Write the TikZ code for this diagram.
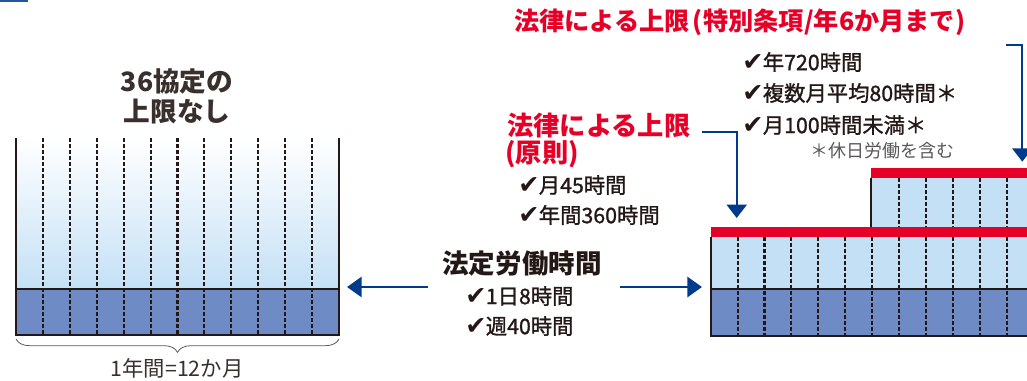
\documentclass[tikz,border=0pt]{standalone}
\usepackage{fontspec}
\setmainfont{Noto Sans CJK JP}
\newfontfamily\jpm[FakeBold=1.2]{Noto Sans CJK JP}
\newfontfamily\dv{DejaVu Sans}
\usetikzlibrary{arrows.meta,decorations.pathreplacing}
\definecolor{jred}{HTML}{E60027}
\definecolor{jblue}{HTML}{003A8C}
\definecolor{lblue}{HTML}{C4E0F5}
\definecolor{dblue}{HTML}{6F8BC6}
\definecolor{ink}{HTML}{231815}
\definecolor{gr}{HTML}{595757}
\newcommand{\ck}{{\dv\fontsize{19}{19}\selectfont\char"2714}\kern-0.5pt}
\tikzset{
  frame/.style={draw=ink, line width=1.5pt},
  month/.style={draw=ink, line width=1.6pt, dash pattern=on 3pt off 1.5pt},
  arr/.style={draw=jblue, line width=2.2pt, -{Triangle[width=15pt,length=11pt]}},
  darr/.style={draw=jblue, line width=1.5pt, -{Triangle[width=15pt,length=10pt]}},
  head/.style={font=\fontsize{19.7}{22}\selectfont\bfseries, text=jred, inner sep=0, anchor=west},
  item/.style={font=\jpm\fontsize{16}{18}\selectfont, text=ink, inner sep=0, anchor=west},
}
\begin{document}
\begin{tikzpicture}[x=0.75pt,y=-0.75pt]
\useasboundingbox (0,0) rectangle (1027,380);
\fill[jblue!85] (0,0) rectangle (28,2);

% left box
\shade[top color=white, bottom color=lblue] (16,138) rectangle (339,289);
\fill[dblue] (16,289) rectangle (339,335);
\foreach \i in {1,...,11} \draw[month] ({16+\i*26.917},138) -- ({16+\i*26.917},335);
\draw[frame] (16,138) -- (16,335) -- (339,335) -- (339,138);
\draw[frame] (16,289) -- (339,289);
\draw[gr, line width=0.6pt, decorate, decoration={brace, mirror, amplitude=10pt}] (16,339) -- (339,339);
\node[font=\fontsize{16}{18}\selectfont, text=ink!90, inner sep=0] (year) at (177,368) {1年間=12か月};
\node[font=\fontsize{20}{22.5}\selectfont\bfseries, text=ink!90, align=center, inner sep=0] (none) at (177,96) {36協定の\\上限なし};

% right box
\fill[lblue] (871,178.3) rectangle (1027,226.7);
\fill[lblue] (710.7,236.7) rectangle (1027,289);
\fill[dblue] (710.7,289) rectangle (1027,336);
\foreach \i in {1,...,11} \draw[month] ({710.7+\i*26.9},236.7) -- ({710.7+\i*26.9},336);
\foreach \i in {7,...,11} \draw[month] ({710.7+\i*26.9},178.3) -- ({710.7+\i*26.9},226.7);
\draw[frame] (871,178.3) -- (871,226.7);
\draw[frame] (710.7,236.7) -- (710.7,336) -- (1027,336);
\draw[frame] (710.7,289) -- (1027,289);
\fill[jred] (710.7,226.7) rectangle (1027,236.7);
\fill[jred] (871,168.3) rectangle (1027,178.3);

% centre labels
\node[font=\fontsize{19.9}{22}\selectfont\bfseries, text=ink, inner sep=0] (legal) at (522,263) {法定労働時間};
\node[item] (d8) at (465,296) {\ck 1日8時間};
\node[item] (w40) at (465,326) {\ck 週40時間};
\coordinate (la) at (428,287);
\coordinate (ltip) at (347,287);
\coordinate (ra) at (620,287);
\coordinate (rtip) at (702,287);
\draw[arr] (la) -- (ltip);
\draw[arr] (ra) -- (rtip);

% principle limit
\node[head] (gen) at (507,126) {法律による上限};
\node[head] (gen2) at (505,154) {(原則)};
\node[item] (m45) at (518,185) {\ck 月45時間};
\node[item] (y360) at (518,215) {\ck 年間360時間};
\coordinate (g1) at (701.7,131.7);
\coordinate (g1tip) at (736.7,218);
\draw[darr] (g1) -| (g1tip);

% special clause
\node[head, font=\fontsize{18.9}{20}\selectfont\bfseries] (spec) at (514,22) {法律による上限\kern2pt(\kern0.5pt特別条項/年6か月まで)};
\node[item] (y720) at (742,62) {\ck 年720時間};
\node[item] (avg80) at (742,93) {\ck 複数月平均80時間＊};
\node[item] (m100) at (742,125) {\ck 月100時間未満＊};
\node[font=\fontsize{13.5}{15}\selectfont, text=gr, inner sep=0, anchor=west] (note) at (810,151) {＊休日労働を含む};
\coordinate (s1) at (1006,45);
\coordinate (s1tip) at (1022.3,161.7);
\draw[darr] (s1) -| (s1tip);
\end{tikzpicture}
\end{document}
